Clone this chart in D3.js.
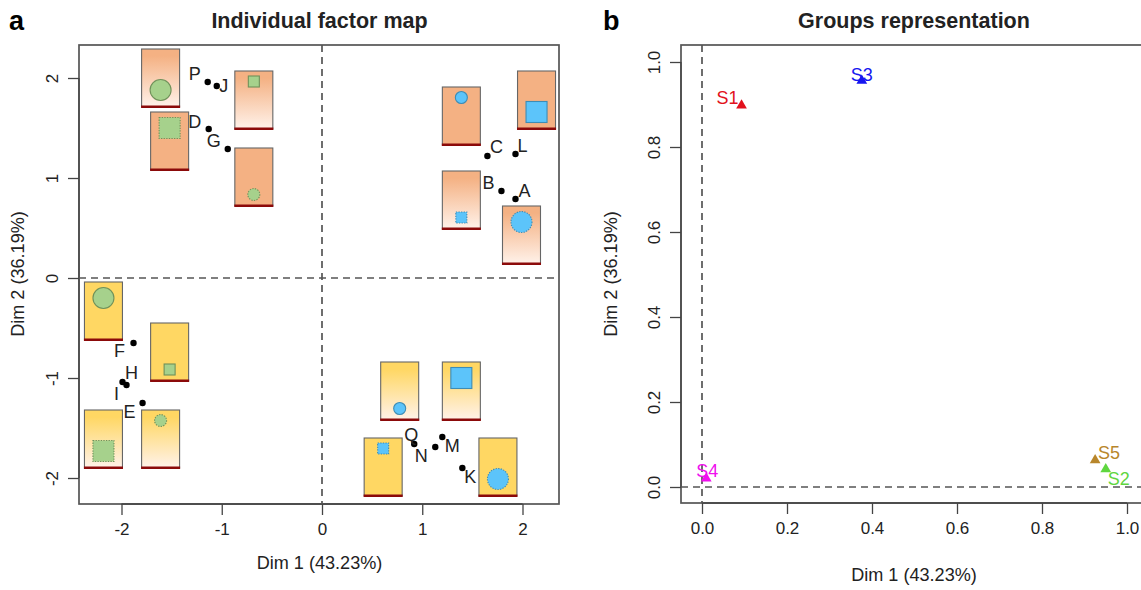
<!DOCTYPE html>
<html>
<head>
<meta charset="utf-8">
<script src="https://cdnjs.cloudflare.com/ajax/libs/d3/7.8.5/d3.min.js"></script>
<style>
    body { margin: 0; background: #fff; }
    svg { display: block; }
    text { font-family: "Liberation Sans", Arial, sans-serif; fill: #222; }
</style>
</head>
<body>
<div id="chart"></div>
<script>
// individuals, panel a
var indNames = ["P", "J", "D", "G", "C", "L", "B", "A", "F", "H", "I", "E", "Q", "N", "M", "K"];
var indDim1 = [-1.14, -1.05, -1.13, -0.94, 1.65, 1.93, 1.79, 1.93, -1.88, -1.99, -1.95, -1.79, 0.92, 1.13, 1.20, 1.40];
var indDim2 = [1.96, 1.92, 1.49, 1.29, 1.22, 1.24, 0.87, 0.79, -0.65, -1.04, -1.07, -1.25, -1.66, -1.69, -1.59, -1.90];

// groups, panel b
var groupNames = ["S1", "S2", "S3", "S4", "S5"];
var groupDim1 = [0.093, 0.95, 0.376, 0.01, 0.925];
var groupDim2 = [0.898, 0.042, 0.956, 0.02, 0.063];
var groupColors = ["#e2111c", "#5fd63f", "#1616f0", "#f010ee", "#b8862b"];

var ticksA = [-2, -1, 0, 1, 2];
var ticksB = [0, 0.2, 0.4, 0.6, 0.8, 1.0];

// pictograms: centre in Dim 1 / Dim 2 units and what is drawn in each one
var picDim1 = [-1.61, -0.68, -1.52, -0.68, 1.39, 2.14, 1.39, 1.99, -2.18, -1.52, -2.18, -1.61, 0.775, 1.39, 0.61, 1.755];
var picDim2 = [2.00, 1.78, 1.37, 1.01, 1.62, 1.78, 0.78, 0.43, -0.33, -0.74, -1.61, -1.61, -1.13, -1.13, -1.89, -1.89];
var picBack = ["orange", "orange", "orange", "orange", "orange", "orange", "orange", "orange", "yellow", "yellow", "yellow", "yellow", "yellow", "yellow", "yellow", "yellow"];
var picFade = [1, 1, 0, 0, 0, 0, 1, 1, 0, 0, 1, 1, 1, 1, 0, 0];
var picShape = ["circle", "square", "square", "circle", "circle", "square", "square", "circle", "circle", "square", "square", "circle", "circle", "square", "square", "circle"];
var picBig = [1, 0, 1, 0, 0, 1, 0, 1, 1, 0, 1, 0, 0, 1, 0, 1];
var picLow = [1, 0, 0, 1, 0, 1, 1, 0, 0, 1, 1, 0, 1, 0, 0, 1];
var picDotted = [0, 0, 1, 1, 0, 0, 1, 1, 0, 0, 1, 1, 0, 0, 1, 1];

// label offsets from the point, px
var indLabelDx = [-13, 7, -14, -14, 9, 7, -13, 9, -14, 9, -10, -13, -3, -14, 10, 8];
var indLabelDy = [-8, 0, -7, -8, -9, -8, -8, -8, 8, -9, 9, 9, -9, 9, 9, 9];
var groupLabelDx = [-14, 13, 0, 1, 14];
var groupLabelDy = [-8, 9, -6, -8, -8];

var colors = {
    orange: "#f4b183", yellow: "#ffd763",
    green: "#a6d18c", greenLine: "#70915a",
    blue: "#5cc4fa", blueLine: "#3d8cb5"
};

var svg = d3.select("#chart").append("svg")
    .attr("width", 1141)
    .attr("height", 590);

var defs = svg.append("defs");
["orange", "yellow"].forEach(function(c) {
    var grad = defs.append("linearGradient")
        .attr("id", "fade-" + c)
        .attr("x1", 0).attr("x2", 0).attr("y1", 0).attr("y2", 1);
    grad.append("stop").attr("offset", "12%").attr("stop-color", colors[c]);
    grad.append("stop").attr("offset", "100%").attr("stop-color", "#fff2ea");
});

// R style frame, axes and zero lines
function drawFrame(g, x, y, xTicks, yTicks, fmt, box) {
    g.append("rect")
        .attr("x", box.left).attr("y", box.top)
        .attr("width", box.right - box.left).attr("height", box.bottom - box.top)
        .attr("fill", "none").attr("stroke", "#555").attr("stroke-width", 1.7);

    var xAxis = g.append("g")
        .attr("transform", "translate(0," + box.bottom + ")")
        .call(d3.axisBottom(x).tickValues(xTicks).tickSize(11).tickPadding(8).tickFormat(fmt));
    var yAxis = g.append("g")
        .attr("transform", "translate(" + box.left + ",0)")
        .call(d3.axisLeft(y).tickValues(yTicks).tickSize(11).tickPadding(8).tickFormat(fmt));

    [xAxis, yAxis].forEach(function(a) {
        a.select(".domain").remove();
        a.selectAll("line").attr("stroke", "#444").attr("stroke-width", 1.3);
        a.selectAll("text").attr("font-size", 17).style("font-family", "Liberation Sans").attr("fill", "#222");
    });
    yAxis.selectAll("text")
        .attr("text-anchor", "middle")
        .attr("transform", "translate(-27,0) rotate(-90) translate(0,6)")
        .attr("x", 0).attr("dy", 0).attr("y", 0);

    xAxis.append("line").attr("x1", x(xTicks[0])).attr("x2", x(xTicks[xTicks.length - 1]))
        .attr("stroke", "#444").attr("stroke-width", 1.3);
    yAxis.append("line").attr("y1", y(yTicks[0])).attr("y2", y(yTicks[yTicks.length - 1]))
        .attr("stroke", "#444").attr("stroke-width", 1.3);

    // dashed lines through zero
    g.append("line").attr("x1", box.left).attr("x2", box.right).attr("y1", y(0)).attr("y2", y(0))
        .attr("stroke", "#555").attr("stroke-width", 1.7).attr("stroke-dasharray", "7,5");
    g.append("line").attr("x1", x(0)).attr("x2", x(0)).attr("y1", box.top).attr("y2", box.bottom)
        .attr("stroke", "#555").attr("stroke-width", 1.7).attr("stroke-dasharray", "7,5");
}

function drawTitles(title, letter, letterX, midX, yLabel, yLabelX, xLabelY) {
    svg.append("text").attr("x", letterX).attr("y", 30)
        .attr("font-size", 27).attr("font-weight", "bold").style("fill", "#000").text(letter);
    svg.append("text").attr("x", midX).attr("y", 28).attr("text-anchor", "middle")
        .attr("font-size", 21.5).attr("font-weight", "bold").text(title);
    svg.append("text").attr("x", midX).attr("y", xLabelY).attr("text-anchor", "middle")
        .attr("font-size", 18.1).text("Dim 1 (43.23%)");
    svg.append("text").attr("transform", "translate(" + yLabelX + ",274) rotate(-90)")
        .attr("text-anchor", "middle").attr("font-size", 18.1).text(yLabel);
}

// panel a
var boxA = {left: 79, right: 559, top: 45, bottom: 504};
var xA = d3.scaleLinear().domain([-2, 2]).range([121.5, 522.5]);
var yA = d3.scaleLinear().domain([-2, 2]).range([478, 78]);
var gA = svg.append("g");
drawFrame(gA, xA, yA, ticksA, ticksA, function(d) { return String(d); }, boxA);
drawTitles("Individual factor map", "a", 9, 319.5, "Dim 2 (36.19%)", 24, 569);

var picW = 38, picH = 58;
var pics = gA.selectAll(".pic")
    .data(indNames)
    .enter().append("g")
    .attr("class", "pic")
    .attr("transform", function(d, i) {
        return "translate(" + (xA(picDim1[i]) - picW / 2) + "," + (yA(picDim2[i]) - picH / 2) + ")";
    });

pics.append("rect")
    .attr("width", picW).attr("height", picH)
    .attr("fill", function(d, i) {
        return picFade[i] ? "url(#fade-" + picBack[i] + ")" : colors[picBack[i]];
    })
    .attr("stroke", "#666").attr("stroke-width", 1.1);

pics.append("rect")
    .attr("x", -0.5).attr("y", picH - 1.5).attr("width", picW + 1).attr("height", 2.5)
    .attr("fill", "#8b0a0a");

pics.each(function(d, i) {
    var half = picBig[i] ? 10.5 : (picShape[i] == "circle" ? 6 : 5.5);
    var cy;
    if(picLow[i]) {
        cy = picH - (picBig[i] ? 17 : 11.5);
    } else {
        cy = picBig[i] ? 16 : 10.5;
    }
    var onLeft = xA(picDim1[i]) < xA(0);
    var shape;
    if(picShape[i] == "circle") {
        shape = d3.select(this).append("circle")
            .attr("cx", picW / 2).attr("cy", cy).attr("r", half);
    } else {
        shape = d3.select(this).append("rect")
            .attr("x", picW / 2 - half).attr("y", cy - half)
            .attr("width", half * 2).attr("height", half * 2);
    }
    shape.attr("fill", onLeft ? colors.green : colors.blue)
        .attr("stroke", onLeft ? colors.greenLine : colors.blueLine)
        .attr("stroke-width", 1.1)
        .attr("stroke-dasharray", picDotted[i] ? "1.3,1.3" : null);
});

gA.selectAll(".ind")
    .data(indNames)
    .enter().append("circle")
    .attr("class", "ind")
    .attr("cx", function(d, i) { return xA(indDim1[i]); })
    .attr("cy", function(d, i) { return yA(indDim2[i]); })
    .attr("r", 3.2)
    .attr("fill", "#000");

gA.selectAll(".indLabel")
    .data(indNames)
    .enter().append("text")
    .attr("class", "indLabel")
    .attr("x", function(d, i) { return xA(indDim1[i]) + indLabelDx[i]; })
    .attr("y", function(d, i) { return yA(indDim2[i]) + indLabelDy[i]; })
    .attr("dy", "0.36em")
    .attr("text-anchor", "middle")
    .attr("font-size", 18)
    .text(function(d) { return d; });

// panel b
var boxB = {left: 681, right: 1160, top: 45, bottom: 503};
var xB = d3.scaleLinear().domain([0, 1]).range([702, 1127]);
var yB = d3.scaleLinear().domain([0, 1]).range([487, 62]);
var gB = svg.append("g");
drawFrame(gB, xB, yB, ticksB, ticksB, d3.format(".1f"), boxB);
drawTitles("Groups representation", "b", 603, 914, "Dim 2 (36.19%)", 617, 581);

gB.selectAll(".group")
    .data(groupNames)
    .enter().append("path")
    .attr("class", "group")
    .attr("d", d3.symbol().type(d3.symbolTriangle).size(50))
    .attr("transform", function(d, i) {
        return "translate(" + xB(groupDim1[i]) + "," + yB(groupDim2[i]) + ")";
    })
    .attr("fill", function(d, i) { return groupColors[i]; });

gB.selectAll(".groupLabel")
    .data(groupNames)
    .enter().append("text")
    .attr("class", "groupLabel")
    .attr("x", function(d, i) { return xB(groupDim1[i]) + groupLabelDx[i]; })
    .attr("y", function(d, i) { return yB(groupDim2[i]) + groupLabelDy[i]; })
    .attr("dy", "0.36em")
    .attr("text-anchor", "middle")
    .attr("font-size", 18)
    .style("fill", function(d, i) { return groupColors[i]; })
    .text(function(d) { return d; });
</script>
</body>
</html>
